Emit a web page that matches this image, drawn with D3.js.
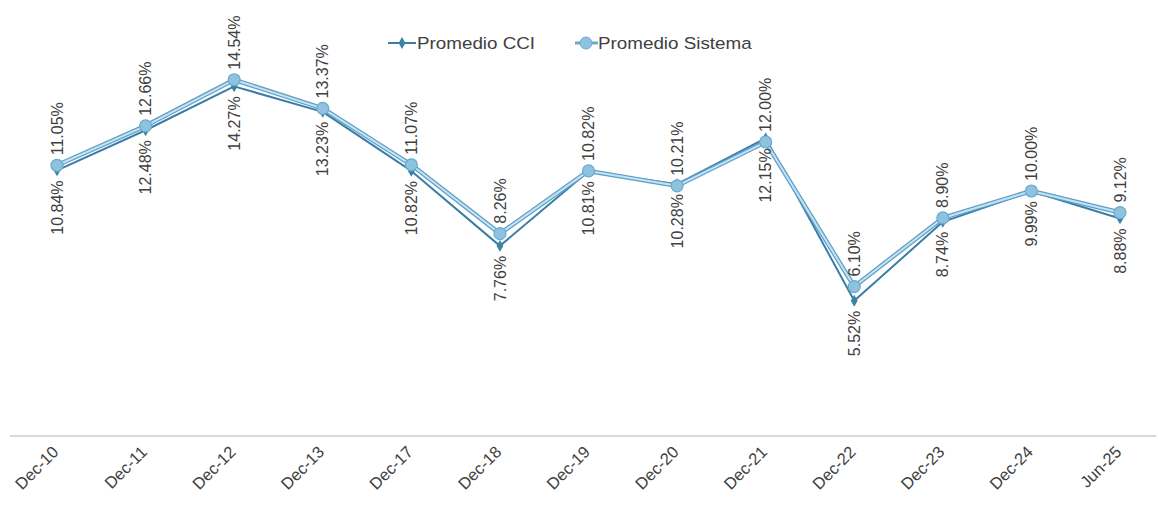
<!DOCTYPE html>
<html><head><meta charset="utf-8">
<script src="https://cdn.jsdelivr.net/npm/d3@7"></script>
<style>body{margin:0;background:#fff}svg{display:block;font-family:"Liberation Sans",Arial,sans-serif}</style>
</head><body><svg id="c" width="1158" height="505"></svg>
<script>
const categories = ["Dec-10","Dec-11","Dec-12","Dec-13","Dec-17","Dec-18","Dec-19","Dec-20","Dec-21","Dec-22","Dec-23","Dec-24","Jun-25"];
const promedioCCI = [10.84,12.48,14.27,13.23,10.82,7.76,10.81,10.28,12.15,5.52,8.74,9.99,8.88];
const promedioSistema = [11.05,12.66,14.54,13.37,11.07,8.26,10.82,10.21,12.00,6.10,8.90,10.00,9.12];
const seriesNames = ["Promedio CCI","Promedio Sistema"];

const svg = d3.select("#c");
const x = d3.scalePoint().domain(categories).range([57,1120]);
const y = d3.scaleLinear().domain([0,16]).range([436,44]);

// axis
const xAxis = d3.axisBottom(x).tickSize(0).tickPadding(0);
const gx = svg.append("g").attr("transform","translate(0,436)").call(xAxis);
gx.select(".domain").remove();
svg.append("line").attr("x1",10).attr("x2",1156).attr("y1",436).attr("y2",436)
  .attr("stroke","#d9d9d9").attr("stroke-width",2);
gx.selectAll("text").attr("font-size",16.5).attr("fill","#404040")
  .attr("text-anchor","end").attr("y",0).attr("dy","0.35em")
  .attr("transform","translate(-2,13) rotate(-45)");

const line = d3.line().x((d,i)=>x(categories[i])).y(d=>y(d));

// CCI (under)
svg.append("path").datum(promedioCCI).attr("d",line).attr("fill","none")
  .attr("stroke","#3a7ea8").attr("stroke-width",2).attr("stroke-linejoin","round");
// Sistema
svg.append("path").datum(promedioSistema).attr("d",line).attr("fill","none")
  .attr("stroke","#5f9fc6").attr("stroke-width",4.5).attr("stroke-linejoin","round");
svg.append("path").datum(promedioSistema).attr("d",line).attr("fill","none")
  .attr("stroke","#c4e3f4").attr("stroke-width",2).attr("stroke-linejoin","round");

svg.selectAll(".dia").data(promedioCCI).enter().append("path")
  .attr("d",d3.symbol().type(d3.symbolDiamond).size(40)())
  .attr("transform",(d,i)=>`translate(${x(categories[i])},${y(d)})`)
  .attr("fill","#3a82a6");
svg.selectAll(".cir").data(promedioSistema).enter().append("circle")
  .attr("cx",(d,i)=>x(categories[i])).attr("cy",d=>y(d)).attr("r",6)
  .attr("fill","#8ec3df").attr("stroke","#6aa9cf").attr("stroke-width",1.2);

// labels
const fmt = d=>d.toFixed(2)+"%";
svg.selectAll(".ls").data(promedioSistema).enter().append("text")
  .attr("transform",(d,i)=>`translate(${x(categories[i])},${y(d)-10}) rotate(-90)`)
  .attr("dy","0.35em").attr("text-anchor","start").attr("font-size",16).attr("fill","#404040")
  .text(fmt);
svg.selectAll(".lc").data(promedioCCI).enter().append("text")
  .attr("transform",(d,i)=>`translate(${x(categories[i])},${y(d)+10}) rotate(-90)`)
  .attr("dy","0.35em").attr("text-anchor","end").attr("font-size",16).attr("fill","#404040")
  .text(fmt);

// legend
const lg = svg.append("g").attr("font-size",16.5).attr("fill","#404040");
lg.append("line").attr("x1",388).attr("x2",416).attr("y1",43).attr("y2",43).attr("stroke","#3a7ea8").attr("stroke-width",2);
lg.append("path").attr("d",d3.symbol().type(d3.symbolDiamond).size(40)()).attr("transform","translate(402,43)").attr("fill","#3a82a6");
lg.append("text").attr("transform","translate(417,43) scale(1.14,1)").attr("dy","0.35em").text(seriesNames[0]);
lg.append("line").attr("x1",575).attr("x2",598).attr("y1",43).attr("y2",43).attr("stroke","#6aa9cf").attr("stroke-width",3);
lg.append("circle").attr("cx",586).attr("cy",43).attr("r",6).attr("fill","#8ec3df").attr("stroke","#6aa9cf");
lg.append("text").attr("transform","translate(598,43) scale(1.14,1)").attr("dy","0.35em").text(seriesNames[1]);
</script></body></html>
